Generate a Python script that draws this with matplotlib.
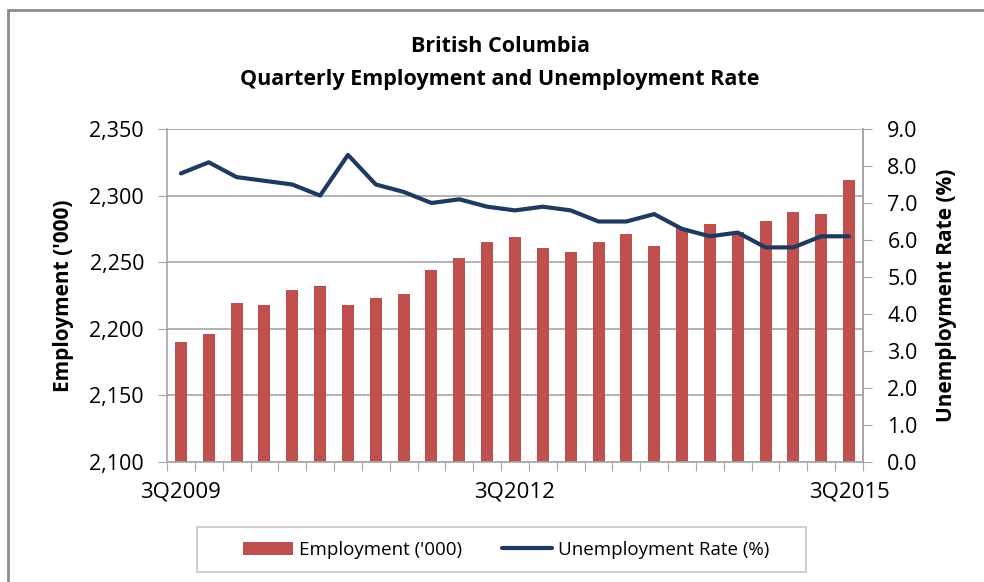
import numpy as np
import matplotlib
matplotlib.use("Agg")
import matplotlib.pyplot as plt
from matplotlib.patches import Rectangle

plt.rcParams['font.family'] = ['Open Sans', 'DejaVu Sans']

quarters = ["3Q2009", "4Q2009", "1Q2010", "2Q2010", "3Q2010", "4Q2010", "1Q2011",
            "2Q2011", "3Q2011", "4Q2011", "1Q2012", "2Q2012", "3Q2012", "4Q2012",
            "1Q2013", "2Q2013", "3Q2013", "4Q2013", "1Q2014", "2Q2014", "3Q2014",
            "4Q2014", "1Q2015", "2Q2015", "3Q2015"]
employment = [2190, 2196, 2219, 2218, 2229, 2232, 2218, 2223, 2226, 2244, 2253, 2265,
              2269, 2261, 2258, 2265, 2271, 2262, 2276, 2279, 2273, 2281, 2288, 2286, 2312]
unemp_rate = [7.8, 8.1, 7.7, 7.6, 7.5, 7.2, 8.3, 7.5, 7.3, 7.0, 7.1, 6.9,
              6.8, 6.9, 6.8, 6.5, 6.5, 6.7, 6.3, 6.1, 6.2, 5.8, 5.8, 6.1, 6.1]
shown_labels = ["3Q2009", "3Q2012", "3Q2015"]

BAR_RED = "#C0504D"
LINE_BLUE = "#1F3A60"
GRID = "#A6A6A6"

W, H = 984, 582
fig = plt.figure(figsize=(W / 100, H / 100), dpi=100)
# outer chart border (cut off at right and bottom in the original)
fig.patches.append(Rectangle((8 / W, -0.05), 1.1, 1 - 10 / H + 0.05,
                             transform=fig.transFigure, fill=False,
                             edgecolor="#8C8C8C", lw=2))

ax = fig.add_axes([167 / W, 1 - 462 / H, (863 - 167) / W, (462 - 129) / H])
x = np.arange(len(quarters))
bars = ax.bar(x, employment, width=0.43, color=BAR_RED, zorder=2)
ax.set_ylim(2100, 2350)
ax.set_yticks(np.arange(2100, 2351, 50))
ax.set_yticklabels([f"{v:,}" for v in range(2100, 2351, 50)])
ax.set_xlim(-0.5, len(quarters) - 0.5)
ax.set_xticks(np.arange(-0.5, len(quarters), 1.0))
ax.set_xticklabels([])
ax.set_xticks([quarters.index(q) for q in shown_labels], minor=True)
ax.set_xticklabels(shown_labels, minor=True)
ax.tick_params(axis="x", which="major", length=6.5, color=GRID, direction="out")
ax.tick_params(axis="x", which="minor", length=0, pad=14, labelsize=16)
ax.tick_params(axis="y", length=6.5, color=GRID, labelsize=15.5, pad=10)
ax.grid(axis="y", color=GRID, lw=1.2, zorder=0)
ax.spines["top"].set_visible(False)
for s in ["left", "bottom", "right"]:
    ax.spines[s].set_color(GRID)
    ax.spines[s].set_linewidth(1.2)
ax.set_ylabel("Employment ('000)", fontsize=15, fontweight="bold", labelpad=11)

ax2 = ax.twinx()
line, = ax2.plot(x, unemp_rate, color=LINE_BLUE, lw=3.0, zorder=3,
                 solid_capstyle="round")
ax2.set_ylim(0, 9)
ax2.set_yticks(np.arange(0, 9.01, 1.0))
ax2.set_yticklabels([f"{v:.1f}" for v in np.arange(0, 9.01, 1.0)])
ax2.tick_params(axis="y", length=6.5, color=GRID, labelsize=15.5, pad=11)
for s in ["top", "left", "bottom"]:
    ax2.spines[s].set_visible(False)
ax2.spines["right"].set_color(GRID)
ax2.spines["right"].set_linewidth(1.2)
ax2.set_ylabel("Unemployment Rate (%)", fontsize=15, fontweight="bold", labelpad=13)

fig.text(500 / W, 1 - 47 / H, "British Columbia", ha="center", va="center",
         fontsize=15.5, fontweight="bold")
fig.text(500 / W, 1 - 80 / H, "Quarterly Employment and Unemployment Rate",
         ha="center", va="center", fontsize=15.5, fontweight="bold")

# legend box drawn by hand, entries placed inside it
fig.patches.append(Rectangle((197 / W, 1 - 572 / H), (806 - 197) / W, 45 / H,
                             transform=fig.transFigure, fill=False,
                             edgecolor="#C8C8C8", lw=1.2))
leg = fig.legend([bars, line], ["Employment ('000)", "Unemployment Rate (%)"],
                 loc="center", bbox_to_anchor=(506 / W, 1 - 550 / H), ncol=2,
                 fontsize=13.5, frameon=False, handlelength=2.7,
                 handletextpad=0.3, columnspacing=2.1, borderaxespad=0)

fig.savefig("out.png", dpi=100)
